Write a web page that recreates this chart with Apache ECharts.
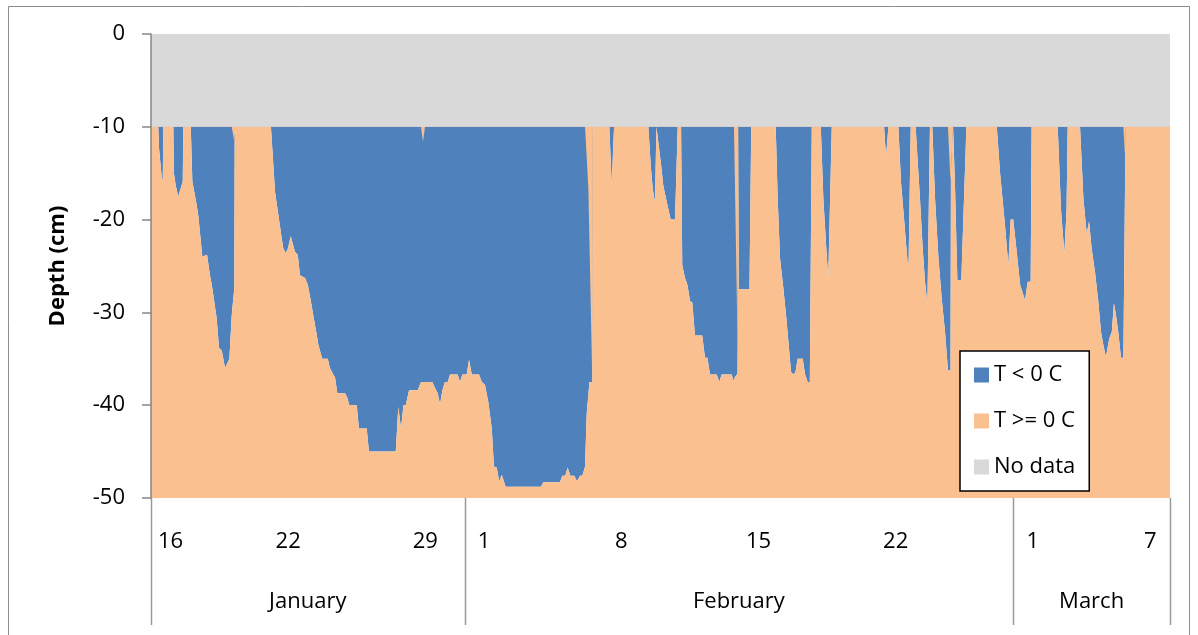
<!DOCTYPE html>
<html>
<head>
<meta charset="utf-8">
<script src="https://cdn.jsdelivr.net/npm/echarts@6/dist/echarts.min.js"></script>
<style>
html,body{margin:0;padding:0;background:#fff;}
#chart{width:1198px;height:635px;}
</style>
</head>
<body>
<div id="chart"></div>
<script>
// Time in days since 16 January 00:00
const dayOffset = [
  0, 0.37, 0.41, 0.55, 0.60, 0.63, 1.14, 1.17, 1.26, 1.39,
  1.48, 1.62, 1.65, 2.03, 2.11, 2.33, 2.41, 2.62, 2.72, 2.86,
  3.01, 3.10, 3.35, 3.47, 3.61, 3.78, 3.86, 4.00, 4.12, 4.15,
  4.25, 4.27, 4.31, 6.12, 6.33, 6.50, 6.67, 6.75, 6.87, 6.99,
  7.13, 7.21, 7.35, 7.49, 7.60, 7.69, 7.86, 8.00, 8.15, 8.28,
  8.46, 8.54, 8.74, 9.02, 9.13, 9.30, 9.39, 9.51, 9.90, 10.02,
  10.12, 10.50, 10.61, 11.01, 11.12, 12.49, 12.62, 12.76, 12.88, 13.00,
  13.17, 13.61, 13.78, 13.88, 13.98, 14.36, 14.46, 14.63, 14.75, 14.87,
  15.00, 15.14, 15.26, 15.65, 15.77, 15.89, 16.11, 16.23, 16.37, 16.74,
  16.88, 17.04, 17.21, 17.39, 17.50, 17.64, 17.77, 17.90, 18.10, 19.90,
  20.02, 20.87, 20.99, 21.14, 21.26, 21.40, 21.60, 21.74, 21.89, 22.01,
  22.15, 22.23, 22.25, 22.32, 22.37, 22.52, 22.55, 23.39, 23.51, 23.63,
  25.38, 25.50, 25.60, 25.72, 25.79, 25.89, 26.03, 26.14, 26.32, 26.52,
  26.74, 26.88, 27.05, 27.11, 27.25, 27.37, 27.51, 27.62, 27.76, 28.13,
  28.27, 28.39, 28.53, 28.87, 29.00, 29.12, 29.63, 29.75, 29.79, 29.93,
  29.94, 29.97, 29.99, 30.54, 30.63, 31.88, 31.98, 32.10, 32.27, 32.44,
  32.57, 32.66, 32.78, 32.89, 33.00, 33.26, 33.37, 33.51, 33.62, 33.72,
  34.18, 34.31, 34.48, 34.56, 34.62, 34.74, 37.41, 37.51, 37.63, 38.14,
  38.27, 38.44, 38.62, 38.66, 38.77, 39.02, 39.24, 39.38, 39.50, 39.62,
  39.75, 39.87, 40.01, 40.18, 40.35, 40.52, 40.67, 40.80, 40.82, 40.93,
  41.03, 41.15, 41.35, 41.61, 43.16, 43.33, 43.58, 43.75, 43.87, 44.00,
  44.18, 44.35, 44.60, 44.74, 44.89, 44.94, 46.27, 46.44, 46.61, 46.72,
  46.78, 47.41, 47.58, 47.75, 47.87, 48.00, 48.17, 48.34, 48.48, 48.60,
  48.73, 48.90, 49.03, 49.14, 49.25, 49.36, 49.50, 49.62, 49.70, 49.72,
  49.75, 52
];

// Upper limit of the frozen layer (cm)
const frostTop = [
  -10, -10, -10, -10, -10, -10, -10, -10, -10, -10,
  -10, -10, -10, -10, -10, -10, -10, -10, -10, -10,
  -10, -10, -10, -10, -10, -10, -10, -10, -10, -10,
  -11.6, -11.6, -10, -10, -10, -10, -10, -10, -10, -10,
  -10, -10, -10, -10, -10, -10, -10, -10, -10, -10,
  -10, -10, -10, -10, -10, -10, -10, -10, -10, -10,
  -10, -10, -10, -10, -10, -10, -10, -10, -10, -10,
  -10, -10, -10, -11.6, -10, -10, -10, -10, -10, -10,
  -10, -10, -10, -10, -10, -10, -10, -10, -10, -10,
  -10, -10, -10, -10, -10, -10, -10, -10, -10, -10,
  -10, -10, -10, -10, -10, -10, -10, -10, -10, -10,
  -10, -10, -10, -16.7, -21.9, -37.5, -10, -10, -10, -10,
  -10, -10, -10, -10, -10, -10, -10, -10, -10, -10,
  -10, -10, -10, -10, -10, -10, -10, -10, -10, -10,
  -10, -10, -10, -10, -10, -10, -10, -10, -10, -33,
  -33, -10, -10, -10, -10, -10, -10, -10, -10, -10,
  -10, -10, -10, -10, -10, -10, -10, -10, -10, -10,
  -10, -10, -10, -10, -10, -10, -10, -10, -10, -10,
  -10, -10, -10, -10, -10, -10, -10, -10, -10, -10,
  -10, -10, -10, -10, -10, -10, -10, -16, -16, -10,
  -10, -10, -10, -10, -10, -10, -10, -10, -10, -10,
  -10, -10, -10, -10, -10, -10, -10, -10, -10, -10,
  -10, -10, -10, -10, -10, -10, -10, -10, -10, -10,
  -10, -10, -10, -10, -10, -10, -10, -10, -13, -13,
  -10, -10
];

// Lower limit of the frozen layer (cm)
const frostBottom = [
  -10, -10, -12.3, -15.5, -15.8, -10, -10, -15, -16.3, -17.5,
  -17.5, -15.9, -10, -10, -15.9, -18.4, -19.5, -24.0, -23.8, -23.8,
  -26.0, -27.0, -30.6, -33.8, -34.1, -36.0, -35.9, -35.0, -30.3, -29.6,
  -27.4, -11.6, -10, -10, -17.0, -19.5, -22.0, -23.1, -23.6, -23.1,
  -21.8, -21.8, -23.5, -23.8, -26.0, -26.2, -26.3, -27.0, -28.7, -30.3,
  -32.4, -33.5, -35.0, -35.0, -36.0, -36.7, -37.0, -38.7, -38.7, -39.2,
  -40.0, -40.0, -42.5, -42.5, -45.0, -45.0, -40.2, -42.5, -40.0, -40.0,
  -38.4, -38.4, -37.5, -37.5, -37.5, -37.5, -38.0, -38.7, -39.9, -38.4,
  -37.5, -37.5, -36.7, -36.7, -37.5, -36.7, -36.7, -35.1, -36.7, -36.7,
  -37.5, -37.8, -39.6, -42.5, -46.6, -46.7, -48.2, -47.5, -48.8, -48.8,
  -48.3, -48.3, -47.6, -47.6, -46.7, -47.6, -47.6, -48.2, -47.6, -47.6,
  -46.6, -41.1, -40.5, -38.9, -37.5, -37.5, -10, -10, -16.3, -10,
  -10, -14.1, -16.6, -18.2, -10, -10, -14.1, -16.3, -18.1, -20.0,
  -20.0, -10, -10, -24.9, -26.3, -27.0, -28.8, -28.9, -32.5, -32.5,
  -34.9, -34.9, -36.7, -36.7, -37.5, -36.7, -36.7, -37.5, -37.0, -36.6,
  -33, -10, -27.5, -27.5, -10, -10, -17.7, -24.2, -27.4, -31.0,
  -34.2, -36.4, -36.7, -36.4, -35.0, -35.0, -36.6, -37.5, -37.5, -10,
  -10, -17.7, -23.8, -26.3, -26.3, -10, -10, -13.2, -10, -10,
  -15.9, -20.2, -24.9, -24.6, -10, -10, -17.7, -23.1, -26.7, -29.1,
  -10, -10, -17.7, -24.0, -28.5, -32.1, -36.2, -36.3, -16, -10,
  -16.5, -26.5, -26.5, -10, -10, -15, -20.6, -24.9, -20.0, -20.0,
  -23.5, -27.0, -28.7, -26.7, -26.7, -10, -10, -19, -23.6, -19,
  -10, -10, -17.7, -21.5, -20.2, -23.1, -25.6, -28.8, -32.1, -33.5,
  -34.8, -32.8, -32.1, -29.0, -30.4, -32.1, -34.9, -34.9, -34.9, -13,
  -10, -10
];

const sensorTopDepth = -10;        // no data above this depth
const depthAxisMin = -50;
const depthAxisMax = 0;
const depthAxisStep = 10;

const dayTickPos = [1, 7, 14, 17, 24, 31, 38, 45, 51];
const dayTickLabels = ['16', '22', '29', '1', '8', '15', '22', '1', '7'];
const monthBoundaries = [0, 16, 44, 52];
const monthCenters = [8, 30, 48];
const monthNames = ['January', 'February', 'March'];

const seriesNames = ['T < 0 C', 'T >= 0 C', 'No data'];
const colors = { frozen: '#4F81BD', thawed: '#FAC090', nodata: '#D9D9D9' };

const FONT = '"Open Sans", "Noto Sans", sans-serif';
const xMin = dayOffset[0];
const xMax = dayOffset[dayOffset.length - 1];

const bottomData = dayOffset.map((d, i) => [d, frostBottom[i]]);
const topData = dayOffset.map((d, i) => [d, frostTop[i]]);
const bandData = [[xMin, sensorTopDepth], [xMax, sensorTopDepth]];

const GRID = { left: 151, right: 28, top: 34, bottom: 137 };
const chart = echarts.init(document.getElementById('chart'), null, { renderer: 'canvas' });

const areaLine = { width: 0, opacity: 0 };

const option = {
  animation: false,
  backgroundColor: '#ffffff',
  textStyle: { fontFamily: FONT },
  grid: Object.assign({ containLabel: false }, GRID),
  legend: {
    data: seriesNames,
    orient: 'vertical',
    left: 960, top: 351,
    icon: 'rect',
    itemWidth: 15, itemHeight: 15,
    itemGap: 24,
    padding: [13, 14, 13, 14],
    backgroundColor: '#ffffff',
    borderColor: '#000000',
    borderWidth: 1.5,
    selectedMode: false,
    textStyle: { fontFamily: FONT, fontSize: 22, lineHeight: 22, color: '#000' },
    z: 20
  },
  xAxis: [{
    type: 'value', min: xMin, max: xMax,
    axisLine: { show: false },
    splitLine: { show: false },
    axisTick: { show: false },
    axisLabel: {
      customValues: dayTickPos,
      formatter: (v) => {
        const i = dayTickPos.findIndex(p => Math.abs(p - v) < 1e-6);
        return i >= 0 ? dayTickLabels[i] : '';
      },
      margin: 33, fontSize: 22, color: '#000', fontFamily: FONT
    }
  }, {
    type: 'value', min: xMin, max: xMax, position: 'bottom',
    axisLine: { show: false }, axisTick: { show: false }, splitLine: { show: false },
    axisLabel: {
      customValues: monthCenters,
      formatter: (v) => {
        const i = monthCenters.findIndex(p => Math.abs(p - v) < 1e-6);
        return i >= 0 ? monthNames[i] : '';
      },
      margin: 93, fontSize: 22, color: '#000', fontFamily: FONT
    }
  }],
  yAxis: {
    type: 'value', min: depthAxisMin, max: depthAxisMax, interval: depthAxisStep,
    name: 'Depth (cm)', nameLocation: 'middle', nameRotate: 90, nameGap: 82,
    nameTextStyle: { fontFamily: FONT, fontSize: 22, fontWeight: 'bold', color: '#000' },
    axisLine: { show: true, lineStyle: { color: '#868686', width: 1.5 } },
    axisTick: { show: true, length: 9, lineStyle: { color: '#868686', width: 1.5 } },
    splitLine: { show: false },
    axisLabel: { margin: 26, fontSize: 22, color: '#000', fontFamily: FONT },
    z: 10
  },
  series: [
    {
      // frozen layer: from its lower limit up to the axis top (upper part covered below)
      name: 'T < 0 C', type: 'line', data: bottomData, symbol: 'none', silent: true,
      itemStyle: { color: colors.frozen },
      lineStyle: areaLine,
      areaStyle: { color: colors.frozen, opacity: 1, origin: 'end' },
      z: 1
    },
    {
      // unfrozen soil below the frozen layer
      name: 'T >= 0 C', type: 'line', data: bottomData, symbol: 'none', silent: true,
      itemStyle: { color: colors.thawed },
      lineStyle: areaLine,
      areaStyle: { color: colors.thawed, opacity: 1, origin: 'start' },
      z: 1
    },
    {
      // unfrozen soil above the frozen layer
      name: 'thawed top', type: 'line', data: topData, symbol: 'none', silent: true,
      itemStyle: { color: colors.thawed },
      lineStyle: areaLine,
      areaStyle: { color: colors.thawed, opacity: 1, origin: 'end' },
      z: 2
    },
    {
      name: 'No data', type: 'line', data: bandData, symbol: 'none', silent: true,
      itemStyle: { color: colors.nodata },
      lineStyle: areaLine,
      areaStyle: { color: colors.nodata, opacity: 1, origin: 'end' },
      z: 3
    }
  ]
};

chart.setOption(option);

// Month separators below the plot, placed through the x axis scale
const plotBottom = chart.getHeight() - GRID.bottom;
chart.setOption({
  graphic: [{
    type: 'rect',
    shape: { x: 8.5, y: 6.5, width: 1181, height: 700 },
    style: { fill: 'none', stroke: '#8c8c8c', lineWidth: 1 },
    silent: true, z: -10
  }].concat(monthBoundaries.map(v => {
    const x = Math.round(chart.convertToPixel({ xAxisIndex: 0 }, v)) + 0.5;
    return {
      type: 'line',
      shape: { x1: x, y1: plotBottom, x2: x, y2: plotBottom + 127 },
      style: { stroke: '#9a9a9a', lineWidth: 1.5 },
      silent: true, z: 5
    };
  }))
});
</script>
</body>
</html>
